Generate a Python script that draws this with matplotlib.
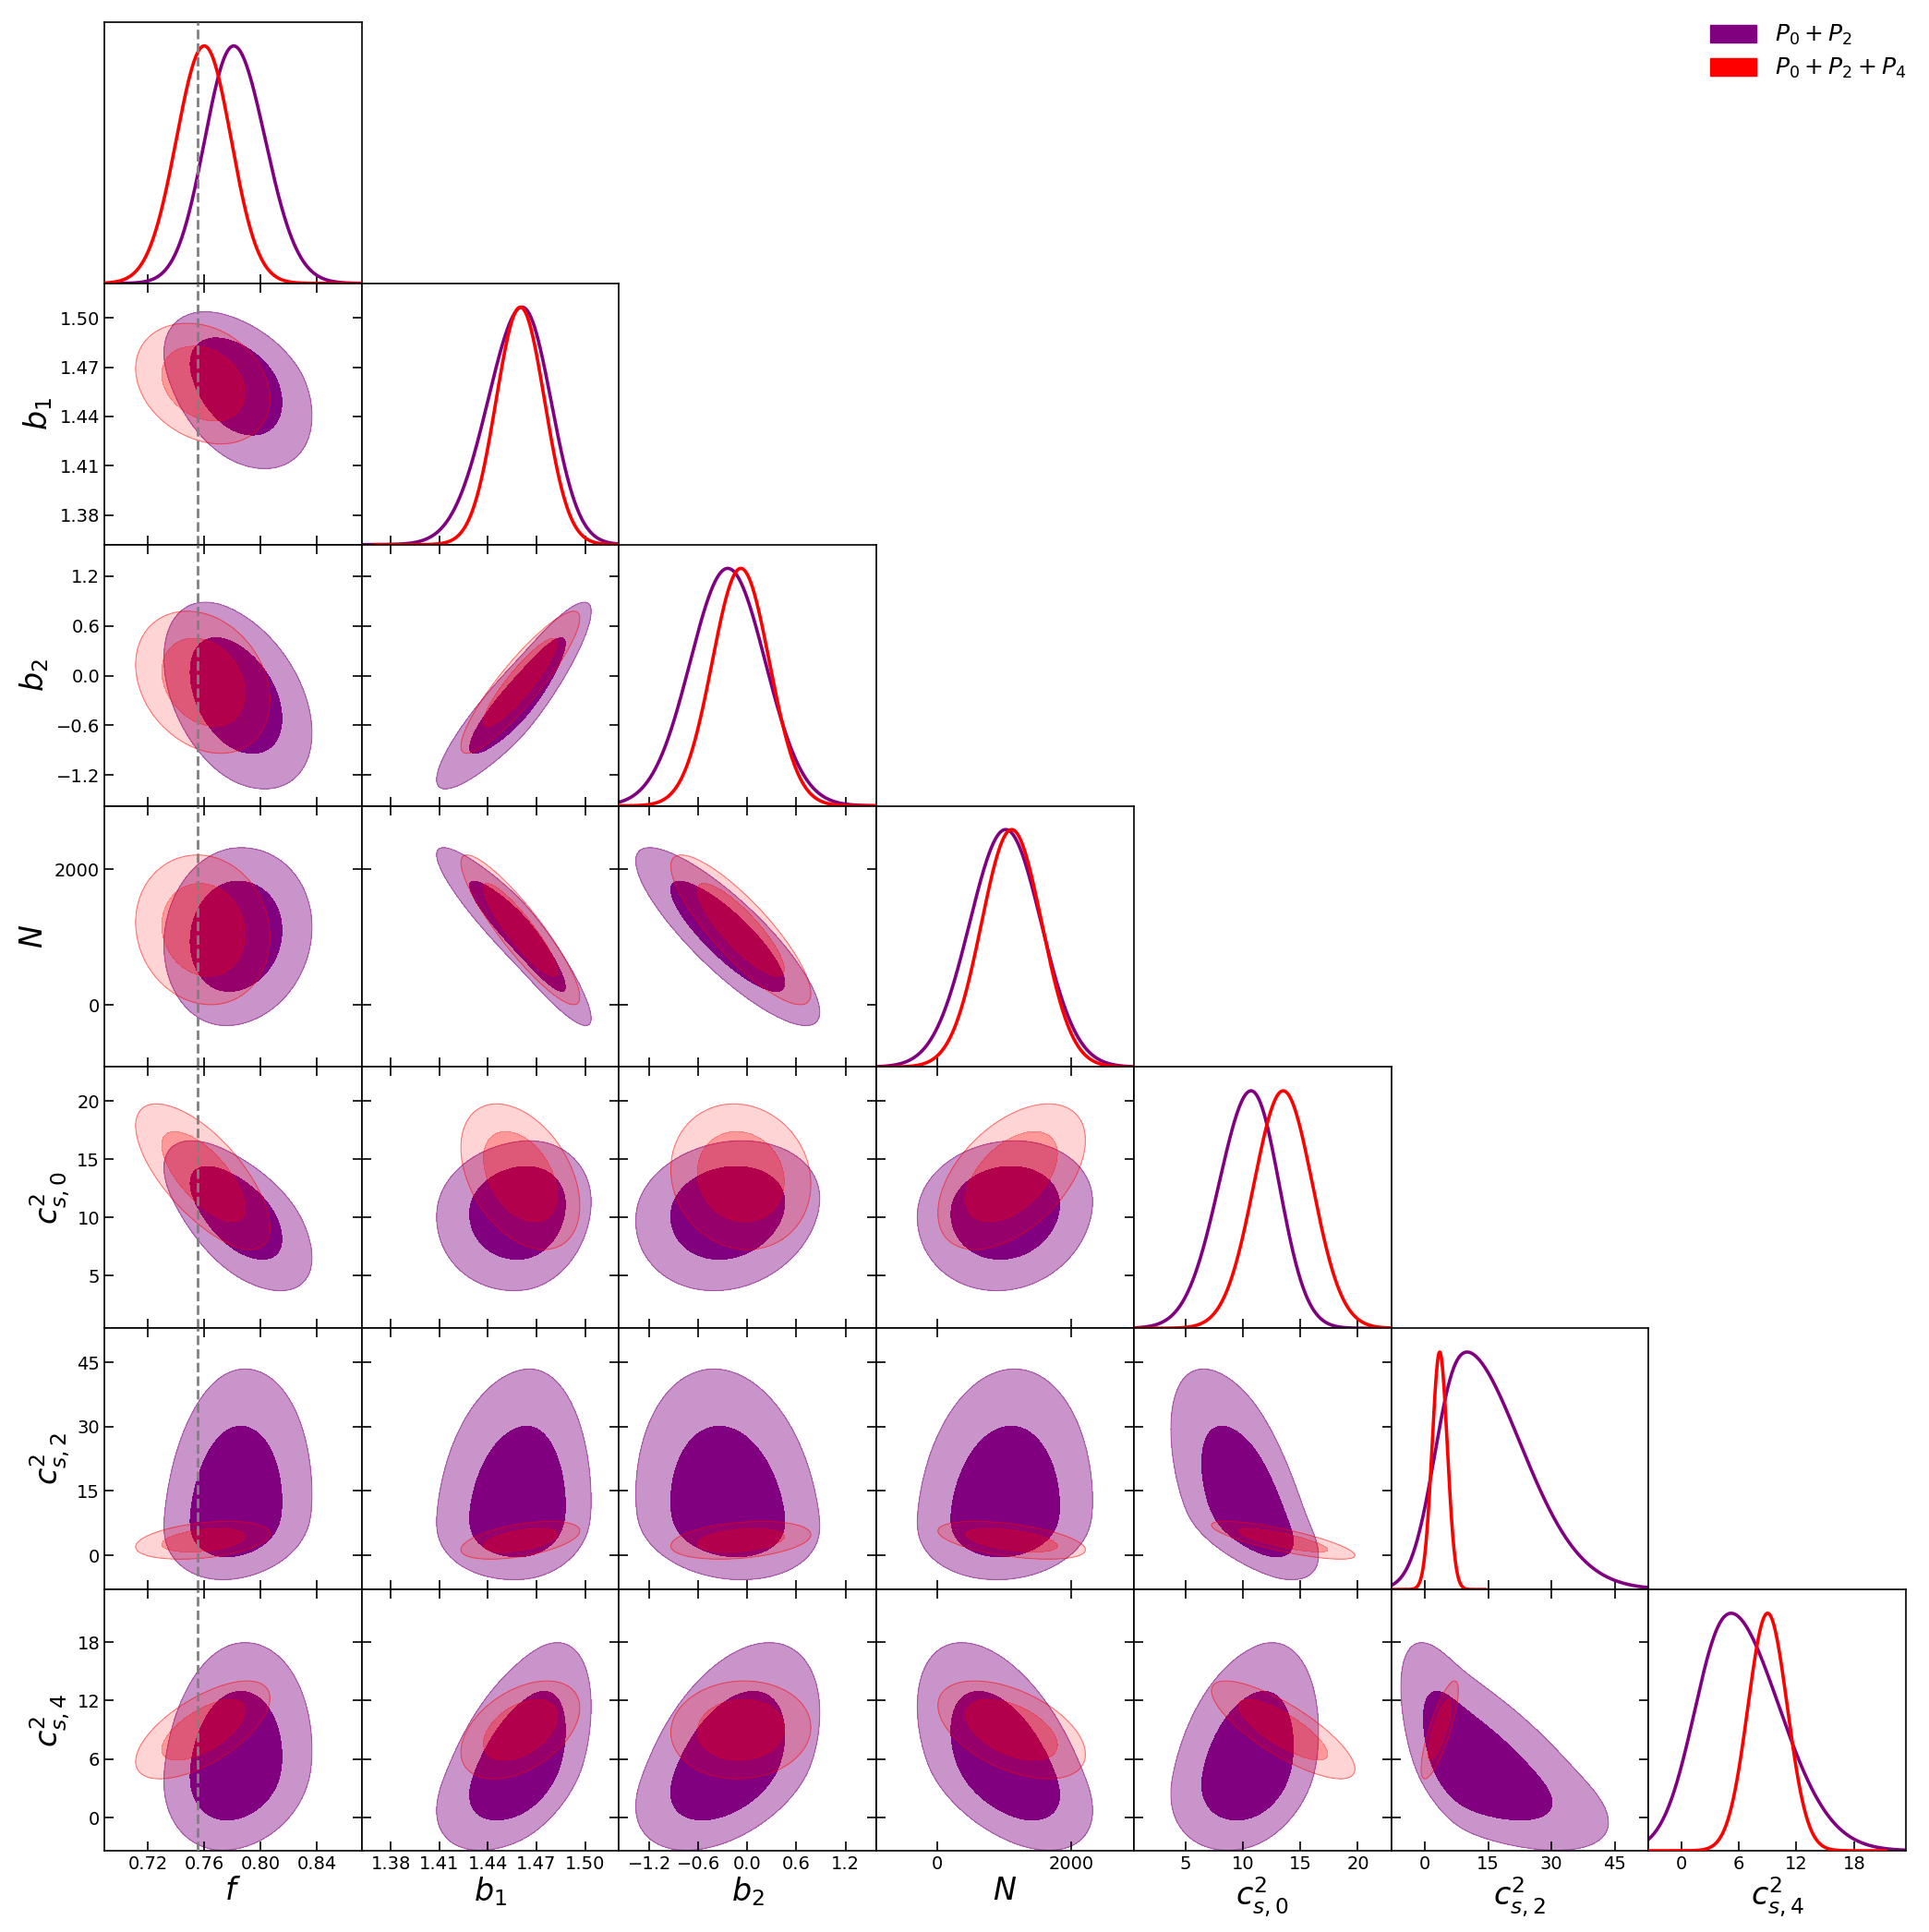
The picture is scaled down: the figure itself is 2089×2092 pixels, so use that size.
import numpy as np
import matplotlib.pyplot as plt
from matplotlib.patches import Patch

# parameter names, plot ranges and ticks
labels = [r"$f$", r"$b_1$", r"$b_2$", r"$N$",
          r"$c^2_{s,0}$", r"$c^2_{s,2}$", r"$c^2_{s,4}$"]
ranges = [(0.689, 0.872), (1.362, 1.521), (-1.57, 1.58), (-910, 2935),
          (0.5, 22.9), (-8.0, 53.0), (-3.4, 23.4)]
ticks = [[0.72, 0.76, 0.80, 0.84], [1.38, 1.41, 1.44, 1.47, 1.50],
         [-1.2, -0.6, 0.0, 0.6, 1.2], [0, 2000], [5, 10, 15, 20],
         [0, 15, 30, 45], [0, 6, 12, 18]]
f_fid = 0.755

# P0+P2 posterior summary: mode, lower / upper width, correlations
p02_mode = [0.781, 1.461, -0.24, 1020, 10.7, 10.0, 5.2]
p02_lo = [0.020, 0.022, 0.46, 540, 2.9, 5.6, 3.3]
p02_hi = [0.023, 0.017, 0.46, 530, 2.35, 14.5, 5.4]
p02_corr = [
    [1.00, -0.40, -0.40, 0.10, -0.60, 0.15, 0.15],
    [-0.40, 1.00, 0.90, -0.92, 0.10, 0.10, 0.50],
    [-0.40, 0.90, 1.00, -0.85, 0.15, -0.15, 0.45],
    [0.10, -0.92, -0.85, 1.00, 0.10, 0.10, -0.50],
    [-0.60, 0.10, 0.15, 0.10, 1.00, -0.60, 0.30],
    [0.15, 0.10, -0.15, 0.10, -0.60, 1.00, -0.65],
    [0.15, 0.50, 0.45, -0.50, 0.30, -0.65, 1.00],
]

# P0+P2+P4 posterior summary
p024_mode = [0.760, 1.460, -0.08, 1110, 13.5, 3.5, 9.0]
p024_lo = [0.020, 0.015, 0.35, 450, 2.55, 1.8, 2.05]
p024_hi = [0.019, 0.015, 0.35, 450, 2.55, 1.8, 2.05]
p024_corr = [
    [1.00, -0.25, -0.25, -0.10, -0.70, 0.35, 0.65],
    [-0.25, 1.00, 0.90, -0.90, -0.40, 0.50, 0.45],
    [-0.25, 0.90, 1.00, -0.85, -0.10, 0.30, 0.05],
    [-0.10, -0.90, -0.85, 1.00, 0.50, -0.50, -0.50],
    [-0.70, -0.40, -0.10, 0.50, 1.00, -0.80, -0.80],
    [0.35, 0.50, 0.30, -0.50, -0.80, 1.00, 0.80],
    [0.65, 0.45, 0.05, -0.50, -0.80, 0.80, 1.00],
]


def stretch(z, mode, lo, hi):
    # smooth split-normal map from a unit gaussian to the parameter
    c = 0.5 * (lo + hi)
    d = 0.5 * (hi - lo)
    return mode + c * z + d * (np.sqrt(z ** 2 + 0.25) - 0.5)


chains = [
    dict(mode=p02_mode, lo=p02_lo, hi=p02_hi, corr=p02_corr, line="#800080",
         inner=("#800080", 1.0), outer=("#c994c9", 1.0), edge="#800080"),
    dict(mode=p024_mode, lo=p024_lo, hi=p024_hi, corr=p024_corr, line="red",
         inner=("red", 0.4), outer=("red", 0.17), edge="red"),
]

n = len(labels)
W, H = 2089, 2092
fig = plt.figure(figsize=(W / 100, H / 100), dpi=100)
left, top = 113, 24
pw, ph = (2064 - 113) / n, (2004 - 24) / n

z = np.linspace(-3.3, 3.3, 400)
z1d = np.linspace(-6, 6, 1500)
lev = [0, 2.30, 5.99]

for i in range(n):
    for j in range(i + 1):
        ax = fig.add_axes([(left + j * pw) / W, 1 - (top + (i + 1) * ph) / H,
                           pw / W, ph / H])
        for s in ax.spines.values():
            s.set_linewidth(1.2)
        ax.set_xlim(ranges[j])
        ax.set_xticks(ticks[j])
        if i == j:
            for k, ch in enumerate(chains):
                x = stretch(z1d, ch["mode"][i], ch["lo"][i], ch["hi"][i])
                ax.plot(x, np.exp(-0.5 * z1d ** 2), color=ch["line"], lw=2.6,
                        zorder=2 + k)
            ax.set_ylim(0, 1.1)
            ax.set_yticks([])
            ax.tick_params(direction="in", length=7, width=1.2, top=False,
                           labelsize=14, labelbottom=(i == n - 1))
        else:
            for k, ch in enumerate(chains):
                r = ch["corr"][i][j]
                Z1, Z2 = np.meshgrid(z, z)
                q = (Z1 ** 2 - 2 * r * Z1 * Z2 + Z2 ** 2) / (1 - r ** 2)
                xs = stretch(z, ch["mode"][j], ch["lo"][j], ch["hi"][j])
                ys = stretch(z, ch["mode"][i], ch["lo"][i], ch["hi"][i])
                ax.contourf(xs, ys, q, levels=lev[1:], colors=[ch["outer"][0]],
                            alpha=ch["outer"][1], zorder=1 + 2 * k)
                ax.contourf(xs, ys, q, levels=lev[:2], colors=[ch["inner"][0]],
                            alpha=ch["inner"][1], zorder=1 + 2 * k)
                ax.contour(xs, ys, q, levels=[5.99], colors=[ch["edge"]],
                           linewidths=0.8, alpha=0.45, zorder=1 + 2 * k)
            ax.set_ylim(ranges[i])
            ax.set_yticks(ticks[i])
            ax.tick_params(direction="in", length=7, width=1.2, top=True,
                           right=True, labelsize=14,
                           labelbottom=(i == n - 1), labelleft=(j == 0))
            if j == 0:
                ax.set_ylabel(labels[i], fontsize=24)
        if j == 0:
            ax.axvline(f_fid, color="gray", ls="--", lw=2, zorder=10)
        if i == n - 1:
            ax.set_xlabel(labels[j], fontsize=24, labelpad=2)

handles = [Patch(color="#800080", label=r"$P_0+P_2$"),
           Patch(color="red", label=r"$P_0+P_2+P_4$")]
fig.legend(handles=handles, loc="upper right", bbox_to_anchor=(1.0, 1.0),
           frameon=False, fontsize=18, handlelength=2.0, handleheight=0.8,
           borderaxespad=0.6, labelspacing=0.4)

fig.savefig("out.png", dpi=100)
